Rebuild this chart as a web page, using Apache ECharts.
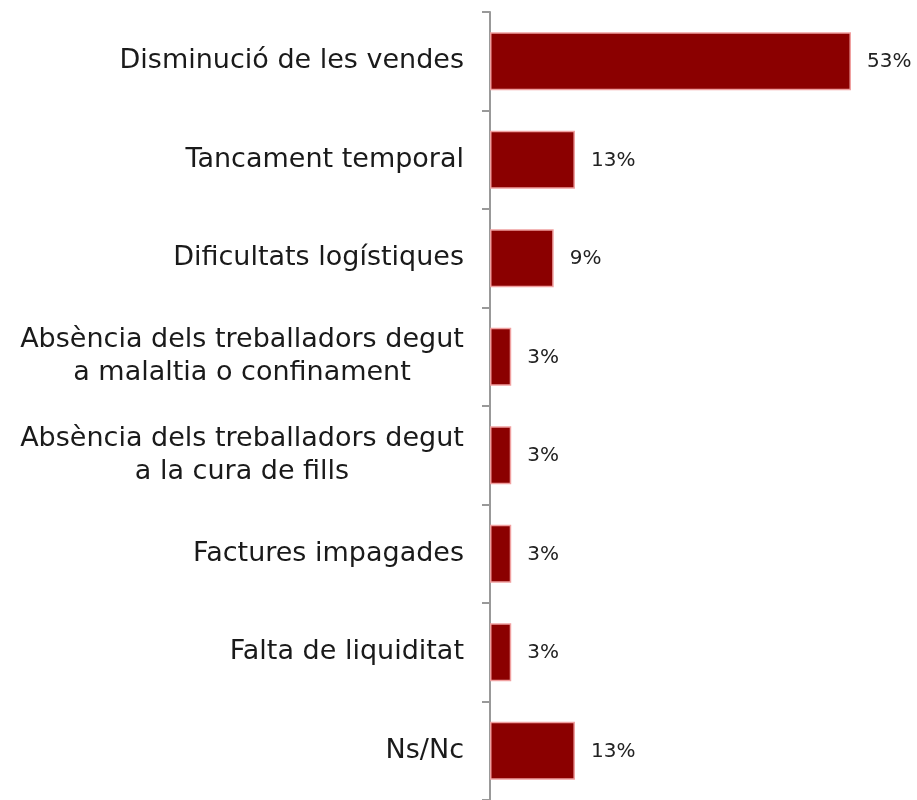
<!DOCTYPE html>
<html><head><meta charset="utf-8">
<script src="https://cdn.jsdelivr.net/npm/echarts@6/dist/echarts.min.js"></script>
<style>html,body{margin:0;padding:0;background:#fff}#c{width:917px;height:800px}</style>
</head><body><div id="c"></div>
<script>
const categories = [
  "Disminució de les vendes",
  "Tancament temporal",
  "Dificultats logístiques",
  "Absència dels treballadors degut\na malaltia o confinament",
  "Absència dels treballadors degut\na la cura de fills",
  "Factures impagades",
  "Falta de liquiditat",
  "Ns/Nc"
];
const values = [53.125, 12.5, 9.375, 3.125, 3.125, 3.125, 3.125, 12.5];

const FONT = 'DejaVu Sans';
const LABEL_SIZE = 27;
const ctx = document.createElement('canvas').getContext('2d');
ctx.font = LABEL_SIZE + 'px "' + FONT + '"';
let blockW = 0;
categories.forEach(c => {
  const lines = c.split('\n');
  if (lines.length > 1) lines.forEach(l => { blockW = Math.max(blockW, ctx.measureText(l).width); });
});

const chart = echarts.init(document.getElementById('c'), null, {renderer: 'canvas'});
chart.setOption({
  animation: false,
  grid: {left: 490, top: 12, width: 407.7, bottom: -2, containLabel: false},
  xAxis: {type: 'value', min: 0, max: 60, show: false},
  yAxis: {
    type: 'category', inverse: true, data: categories,
    axisLine: {show: true, lineStyle: {color: '#999', width: 2}},
    axisTick: {show: true, length: 8, lineStyle: {color: '#999', width: 2}},
    axisLabel: {
      margin: 26, fontFamily: FONT, fontSize: LABEL_SIZE, color: '#1a1a1a', align: 'right', lineHeight: 33,
      formatter: v => {
        const lines = v.split('\n');
        return lines.length > 1 ? lines.map(l => '{c|' + l + '}').join('\n') : v;
      },
      rich: {c: {width: Math.ceil(blockW), align: 'center', fontFamily: FONT, fontSize: LABEL_SIZE, color: '#1a1a1a', lineHeight: 33}}
    }
  },
  series: [{
    type: 'bar', data: values, barCategoryGap: '41%',
    itemStyle: {color: '#8b0000', borderColor: '#f0a0a0', borderWidth: 1.5},
    label: {show: true, position: 'right', distance: 16, offset: [0, 1], fontFamily: FONT, fontSize: 20, color: '#222',
      formatter: p => Math.round(p.value) + '%'}
  }]
});
</script></body></html>
